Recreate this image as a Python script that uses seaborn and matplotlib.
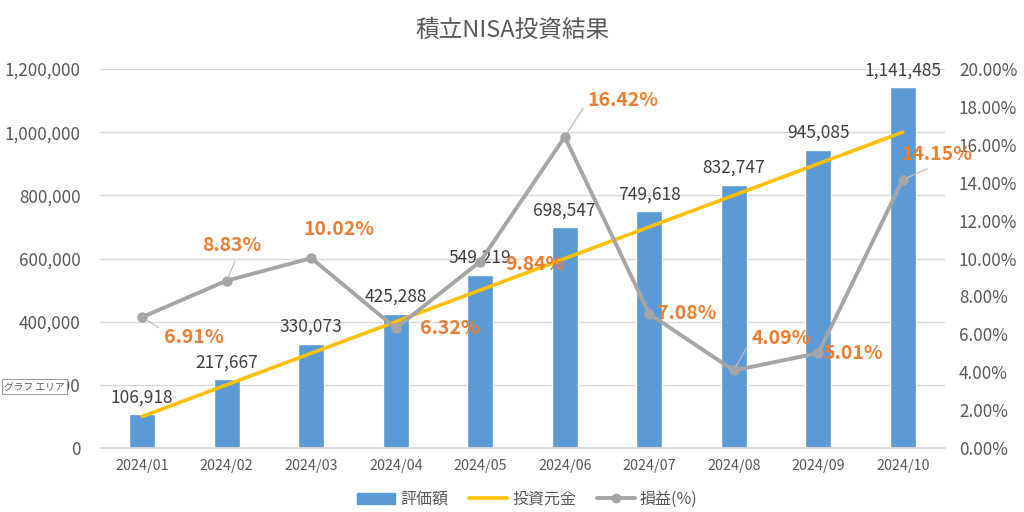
import numpy as np
import seaborn as sns
import matplotlib.pyplot as plt
from matplotlib.ticker import FuncFormatter, MultipleLocator
from matplotlib.lines import Line2D
from matplotlib.patches import Patch

# data
months = ['2024/01', '2024/02', '2024/03', '2024/04', '2024/05',
          '2024/06', '2024/07', '2024/08', '2024/09', '2024/10']
valuation = [106918, 217667, 330073, 425288, 549219,
             698547, 749618, 832747, 945085, 1141485]
principal = [100000, 200000, 300000, 400000, 500000,
             600000, 700000, 800000, 900000, 1000000]
profit_pct = [6.91, 8.83, 10.02, 6.32, 9.84, 16.42, 7.08, 4.09, 5.01, 14.15]

# label offsets (pixels), alignment, leader attach point (None = no leader)
pct_offsets = [(22, -20, 'left', (0.0, 0.8)), (5, 35, 'center', (0.6, 0.0)),
               (28, 29, 'center', None), (24, 0, 'left', None),
               (25, -3, 'left', None), (23, 36, 'left', (0.0, 0.5)),
               (8, 0, 'left', None), (18, 32, 'left', (0.0, 0.5)),
               (5, 0, 'left', None), (34, 25, 'center', (0.5, 0.0))]

sns.set_theme(style='white')
plt.rcParams['font.family'] = ['Noto Sans CJK JP', 'DejaVu Sans']

TXT = '#595959'
BLUE = '#5B9BD5'
YELLOW = '#FFC000'
GRAY = '#A5A5A5'
ORANGE = '#ED7D31'

fig = plt.figure(figsize=(10.24, 5.12), dpi=100)
ax = fig.add_axes([100 / 1024, 64 / 512, 845 / 1024, 379 / 512])

sns.barplot(x=months, y=valuation, color=BLUE, saturation=1, width=0.31, ax=ax, zorder=2)
x = np.arange(len(months))
ax.plot(x, principal, color=YELLOW, lw=2.6, zorder=3, solid_capstyle='round')

ax.set_ylim(0, 1200000)
ax.set_xlim(-0.5, len(months) - 0.5)
ax.yaxis.set_major_locator(MultipleLocator(200000))
ax.yaxis.set_major_formatter(FuncFormatter(lambda v, p: f'{int(v):,}'))
ax.grid(axis='y', color='#D9D9D9', lw=1, zorder=0)
ax.set_axisbelow(True)
for s in ['top', 'left', 'right']:
    ax.spines[s].set_visible(False)
ax.spines['bottom'].set_color('#D9D9D9')
ax.tick_params(axis='y', labelsize=12.3, colors=TXT, length=0, pad=14)
ax.tick_params(axis='x', labelsize=10.3, colors=TXT, length=0, pad=8)

for xi, v in zip(x, valuation):
    ax.annotate(f'{v:,}', (xi, v), xytext=(0, 8), textcoords='offset pixels',
                ha='center', va='bottom', fontsize=12.5, color='#404040', zorder=6)

ax2 = ax.twinx()
ax2.plot(x, profit_pct, color=GRAY, lw=2.8, marker='o', markersize=6.5, zorder=4)
ax2.set_ylim(0, 20)
ax2.yaxis.set_major_locator(MultipleLocator(2))
ax2.yaxis.set_major_formatter(FuncFormatter(lambda v, p: f'{v:.2f}%'))
for s in ['top', 'left', 'right', 'bottom']:
    ax2.spines[s].set_visible(False)
ax2.tick_params(axis='y', labelsize=12.3, colors=TXT, length=0, pad=10)

for xi, p, (dx, dy, ha, lead) in zip(x, profit_pct, pct_offsets):
    arrow = None
    if lead is not None:
        arrow = dict(arrowstyle='-', color='#BFBFBF', lw=0.9, shrinkA=2, shrinkB=3, relpos=lead)
    ax2.annotate(f'{p:.2f}%', (xi, p), xytext=(dx, dy), textcoords='offset pixels',
                 ha=ha, va='center', fontsize=14, fontweight='bold', color=ORANGE,
                 arrowprops=arrow, zorder=7)

fig.text(0.5, 0.94, '積立NISA投資結果', ha='center', va='center', fontsize=17, color=TXT)

handles = [Patch(color=BLUE, label='評価額'),
           Line2D([], [], color=YELLOW, lw=2.6, label='投資元金'),
           Line2D([], [], color=GRAY, lw=2.8, marker='o', markersize=6, label='損益(%)')]
fig.legend(handles=handles, loc='center', bbox_to_anchor=(0.515, 0.025), ncol=3,
           frameon=False, fontsize=11.5, labelcolor=TXT, handlelength=2.4,
           handletextpad=0.3, columnspacing=1.3)

# Excel tooltip visible in the screenshot
fig.text(0.004, 0.245, 'グラフ エリア', fontsize=7, color='#595959', va='center',
         bbox=dict(boxstyle='square,pad=0.25', fc='white', ec='#A0A0A0', lw=0.8))

fig.savefig('out.png', dpi=100)
